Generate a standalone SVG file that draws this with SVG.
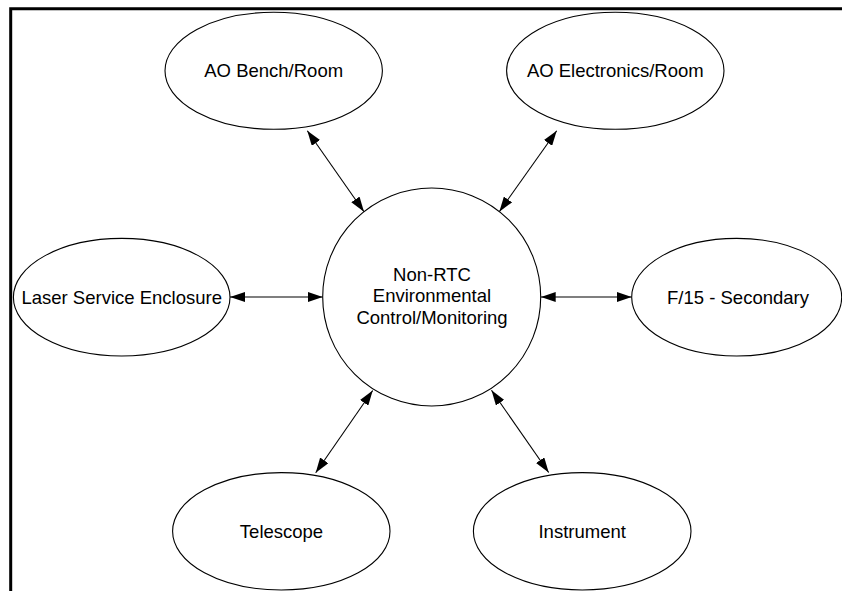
<svg xmlns="http://www.w3.org/2000/svg" width="842" height="591" viewBox="0 0 842 591">
<style>
.node ellipse,.node circle{fill:#fff;stroke:#000;stroke-width:1.1}
.node text{font-family:"Liberation Sans",Arial,sans-serif;font-size:18.5px;fill:#000;text-anchor:middle}
.conn line{stroke:#000;stroke-width:1.1;marker-start:url(#ah);marker-end:url(#ah)}
.frame{fill:none;stroke:#000;stroke-width:3}
</style>
<defs>
<marker id="ah" markerUnits="userSpaceOnUse" markerWidth="15" markerHeight="10" refX="15" refY="5" orient="auto-start-reverse" viewBox="0 0 15 10">
<path d="M0,0 L15,5 L0,10 z" fill="#000"/>
</marker>
</defs>
<rect width="842" height="591" fill="#fff"/>
<path class="frame" d="M10.7,591 L10.7,8.7 L842,8.7"/>
<g class="conn">
<line x1="307.3" y1="130.7" x2="364" y2="211.7"/>
<line x1="556.7" y1="130.7" x2="499.3" y2="211.7"/>
<line x1="230" y1="297" x2="322.7" y2="297"/>
<line x1="540.7" y1="297" x2="631.7" y2="297"/>
<line x1="372.7" y1="390.5" x2="315.7" y2="472.7"/>
<line x1="491.5" y1="390.3" x2="548.7" y2="472.5"/>
</g>
<g id="center" class="node">
<circle cx="431.7" cy="297" r="109"/>
<text x="432" y="280.5">Non-RTC</text>
<text x="432" y="302">Environmental</text>
<text x="432" y="323.5">Control/Monitoring</text>
</g>
<g id="aobench" class="node">
<ellipse cx="273.7" cy="70.8" rx="108.7" ry="58.5"/>
<text x="273.7" y="77.3">AO Bench/Room</text>
</g>
<g id="aoelec" class="node">
<ellipse cx="615.3" cy="70.8" rx="108.7" ry="58.5"/>
<text x="615.3" y="77.3">AO Electronics/Room</text>
</g>
<g id="laser" class="node">
<ellipse cx="121.7" cy="297.2" rx="108.3" ry="58.8"/>
<text x="121.7" y="303.6">Laser Service Enclosure</text>
</g>
<g id="f15" class="node">
<ellipse cx="736.7" cy="297.2" rx="105" ry="58.8"/>
<text x="738" y="303.6">F/15 - Secondary</text>
</g>
<g id="telescope" class="node">
<ellipse cx="281.3" cy="531.3" rx="108.7" ry="58.7"/>
<text x="281.5" y="537.6">Telescope</text>
</g>
<g id="instrument" class="node">
<ellipse cx="582.2" cy="531.3" rx="108.8" ry="58.7"/>
<text x="582.2" y="537.6">Instrument</text>
</g>
</svg>
